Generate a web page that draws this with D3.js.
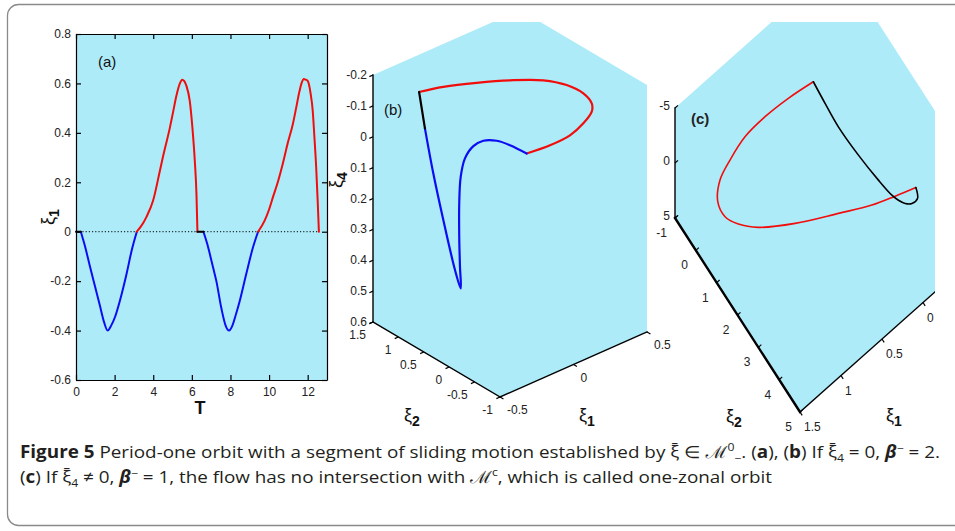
<!DOCTYPE html>
<html><head><meta charset="utf-8">
<script src="https://cdn.jsdelivr.net/npm/d3@7"></script>
<style>
html,body{margin:0;padding:0;background:#fff;}
svg{display:block;}
</style></head><body>
<svg id="chart" width="955" height="531"></svg>
<script>
// ================= DATA =================
// Panel (a): [T, xi1] segments
const aBlack1 = [[0,0],[0.25,0]];
const aBlue1 = [[0.25,0],[0.47,-0.06],[0.72,-0.14],[0.98,-0.22],[1.24,-0.3],[1.45,-0.365],[1.64,-0.4],[1.82,-0.38],[2.02,-0.345],[2.27,-0.28],[2.62,-0.17],[2.88,-0.077],[3.15,0]];
const aRed1 = [[3.15,0],[3.48,0.035],[3.65,0.06],[3.99,0.125],[4.34,0.245],[4.51,0.305],[4.86,0.42],[5.03,0.485],[5.2,0.55],[5.37,0.598],[5.5,0.615],[5.6,0.61],[5.72,0.59],[5.89,0.53],[6.03,0.42],[6.15,0.29],[6.24,0.15],[6.29,0]];
const aBlack2 = [[6.29,0],[6.6,0]];
const aBlue2 = [[6.6,0],[6.8,-0.05],[6.93,-0.09],[7.1,-0.145],[7.27,-0.2],[7.53,-0.31],[7.75,-0.38],[7.93,-0.4],[8.1,-0.38],[8.3,-0.33],[8.48,-0.28],[8.82,-0.17],[9.16,-0.065],[9.43,0]];
const aRed2 = [[9.43,0],[9.77,0.045],[10.0,0.09],[10.2,0.14],[10.45,0.2],[10.71,0.275],[10.97,0.36],[11.23,0.435],[11.4,0.5],[11.58,0.57],[11.7,0.605],[11.8,0.618],[11.9,0.615],[12.0,0.61],[12.15,0.56],[12.26,0.49],[12.35,0.38],[12.44,0.26],[12.52,0.12],[12.58,0]];
const aZeroLine = [[0,0],[12.6,0]];
const aXTicks = [0,2,4,6,8,10,12];
const aYTicks = [-0.6,-0.4,-0.2,0,0.2,0.4,0.6,0.8];

// Panel (b): [xi1, xi2, xi4]
const bRed = [[-0.29,1.2,-0.13],[-0.193,1.004,-0.145],[-0.059,0.736,-0.156],[0.075,0.467,-0.162],[0.209,0.199,-0.16],[0.303,0.011,-0.143],[0.37,-0.123,-0.115],[0.404,-0.19,-0.082],[0.404,-0.19,-0.055],[0.37,-0.123,-0.018],[0.316,-0.016,0.02],[0.236,0.145,0.051],[0.142,0.333,0.076]];
const bBlue = [[0.142,0.333,0.076],[0.075,0.467,0.048],[0.022,0.575,0.033],[-0.032,0.682,0.032],[-0.072,0.763,0.049],[-0.106,0.83,0.088],[-0.123,0.864,0.147],[-0.129,0.876,0.233],[-0.129,0.876,0.341],[-0.126,0.87,0.439],[-0.123,0.864,0.509],[-0.146,0.91,0.449],[-0.193,1.004,0.286],[-0.233,1.085,0.135],[-0.267,1.152,-0.012]];
const bBlack = [[-0.267,1.152,-0.012],[-0.29,1.2,-0.13]];
const bXi1Ticks = [-0.5,0,0.5];
const bXi2Ticks = [-1,-0.5,0,0.5,1,1.5];
const bXi4Ticks = [-0.2,-0.1,0,0.1,0.2,0.3,0.4,0.5,0.6];

// Panel (c): [xi1, xi2, xi4]
const cRed = [[0.132,0.256,-2],[0.381,0.036,-1.5],[0.626,-0.118,-1],[0.854,-0.183,-0.5],[1.059,-0.096,0],[1.209,0.015,0.5],[1.307,0.293,1],[1.298,0.608,1.5],[1.204,0.876,2],[1.065,1.292,2],[0.788,1.964,1.5],[0.43,2.634,1],[0.157,3.164,0.5],[-0.041,3.504,0],[-0.217,3.803,-0.5]];
const cBlack = [[-0.217,3.803,-0.5],[-0.175,4.048,-0.5],[-0.101,4.07,-0.6],[-0.038,3.995,-0.8],[0.009,3.857,-1],[0.046,3.686,-1.2],[0.097,3.242,-1.6],[0.149,2.487,-2],[0.185,1.666,-2.4],[0.16,0.929,-2.2],[0.132,0.256,-2]];
const cXi1Ticks = [0,0.5,1,1.5];
const cXi2Ticks = [-1,0,1,2,3,4,5];
const cXi4Ticks = [-5,0,5];

// ================= DRAW =================
const svg = d3.select('#chart');
const FONT = "'Liberation Sans', Arial, sans-serif";
const CYAN = '#aeebf9';
const RED = '#f20d0d', BLUE = '#0d0df2', BLACK = '#000';

svg.append('rect').attr('x',7.5).attr('y',4.5).attr('width',980).attr('height',521)
  .attr('rx',11).attr('fill','none').attr('stroke','#8a8a8a').attr('stroke-width',1.3);

// ---------- Panel (a) ----------
const ax = d3.scaleLinear([0,13],[76,327]);
const ay = d3.scaleLinear([-0.6,0.8],[380,34]);
const ga = svg.append('g').attr('font-family',FONT);
ga.append('rect').attr('x',ax(0)).attr('y',ay(0.8))
  .attr('width',ax(13)-ax(0)).attr('height',ay(-0.6)-ay(0.8)).attr('fill',CYAN);
const fmt = d => String(d);
function styleAxis(g){
  g.select('.domain').attr('stroke','#000').attr('stroke-width',1.2);
  g.selectAll('.tick line').attr('stroke','#000').attr('stroke-width',1.2);
  g.selectAll('.tick text').attr('font-size',12).attr('fill','#222').attr('font-family',FONT);
}
ga.append('g').attr('transform',`translate(0,${ay(-0.6)})`)
  .call(d3.axisBottom(ax).tickValues(aXTicks).tickSize(-5).tickSizeOuter(0).tickPadding(7).tickFormat(fmt)).call(styleAxis);
ga.append('g').attr('transform',`translate(0,${ay(0.8)})`)
  .call(d3.axisTop(ax).tickValues(aXTicks).tickSize(-5).tickSizeOuter(0).tickFormat('')).call(styleAxis);
ga.append('g').attr('transform',`translate(${ax(0)},0)`)
  .call(d3.axisLeft(ay).tickValues(aYTicks).tickSize(-5).tickSizeOuter(0).tickPadding(5).tickFormat(fmt)).call(styleAxis);
ga.append('g').attr('transform',`translate(${ax(13)},0)`)
  .call(d3.axisRight(ay).tickValues(aYTicks).tickSize(-5).tickSizeOuter(0).tickFormat('')).call(styleAxis);
ga.selectAll('.domain').attr('fill','none');

const aLine = d3.line().x(d=>ax(d[0])).y(d=>ay(d[1])).curve(d3.curveMonotoneX);
ga.append('path').datum(aZeroLine).attr('d',d3.line().x(d=>ax(d[0])).y(d=>ay(d[1])))
  .attr('stroke','#000').attr('stroke-width',1).attr('stroke-dasharray','1.2,2').attr('fill','none');
[[aBlue1,BLUE],[aRed1,RED],[aBlue2,BLUE],[aRed2,RED],[aBlack1,BLACK],[aBlack2,BLACK]].forEach(([d,c])=>{
  ga.append('path').datum(d).attr('d',aLine).attr('fill','none').attr('stroke',c)
    .attr('stroke-width',2).attr('stroke-linejoin','round').attr('stroke-linecap','round');
});
ga.append('text').attr('x',98).attr('y',67).attr('font-size',15).attr('fill','#111').text('(a)');
ga.append('text').attr('x',200).attr('y',414).attr('text-anchor','middle').attr('font-size',18)
  .attr('font-weight','bold').attr('fill','#111').text('T');
function xiLabel(g, x, y, sub, rotate){
  const t = g.append('text').attr('font-family',FONT).attr('fill','#111').attr('font-size',18)
    .attr('text-anchor', rotate ? 'middle' : 'start')
    .attr('transform', rotate ? `translate(${x},${y}) rotate(-90)` : `translate(${x},${y})`);
  t.append('tspan').text('ξ');
  t.append('tspan').attr('font-size',14).attr('font-weight','bold').attr('dy',5).text(sub);
  return t;
}
xiLabel(ga, 54, 217, '1', true);

// ---------- 3D helper ----------
function make3D(cfg){
  const {s1,s2,s4,O,V1,V2,V4} = cfg;
  return p => {
    const a=s1(p[0]), b=s2(p[1]), c=s4(p[2]);
    return [O[0]+a*V1[0]+b*V2[0]+c*V4[0], O[1]+a*V1[1]+b*V2[1]+c*V4[1]];
  };
}
function boxHull(proj, s1, s2, s4){
  const pts=[];
  s1.domain().forEach(a=>s2.domain().forEach(b=>s4.domain().forEach(c=>pts.push(proj([a,b,c])))));
  return d3.polygonHull(pts);
}
function unit(v, len){ const n=Math.hypot(v[0],v[1]); return [v[0]/n*len, v[1]/n*len]; }
function drawAxis3D(g, proj, from, to, width){
  const p0=proj(from), p1=proj(to);
  g.append('line').attr('x1',p0[0]).attr('y1',p0[1]).attr('x2',p1[0]).attr('y2',p1[1])
    .attr('stroke','#000').attr('stroke-width',width).attr('stroke-linecap','square');
}
function drawTicks3D(g, proj, ticks, pos, dir, lab){
  ticks.forEach(t=>{
    const p = proj(pos(t));
    g.append('line').attr('x1',p[0]).attr('y1',p[1]).attr('x2',p[0]+dir[0]).attr('y2',p[1]+dir[1])
      .attr('stroke','#000').attr('stroke-width',1.2);
    g.append('text').attr('x',p[0]+lab.dx).attr('y',p[1]+lab.dy).attr('text-anchor',lab.anchor)
      .attr('font-family',FONT).attr('font-size',12).attr('fill','#222').text(String(t));
  });
}
const line3D = (proj) => d3.line().x(d=>proj(d)[0]).y(d=>proj(d)[1]).curve(d3.curveCatmullRom.alpha(0.5));

// ---------- Panel (b) ----------
const bS1 = d3.scaleLinear([-0.5,0.5],[0,1]);
const bS2 = d3.scaleLinear([-1,1.5],[0,1]);
const bS4 = d3.scaleLinear([0.6,-0.2],[0,1]);
const bV1=[147,-65], bV2=[-127,-75], bV4=[0,-247];
const bProj = make3D({s1:bS1,s2:bS2,s4:bS4,O:[500,397],V1:bV1,V2:bV2,V4:bV4});
const gb = svg.append('g');
svg.append('clipPath').attr('id','clipB').append('rect').attr('x',330).attr('y',22).attr('width',330).attr('height',500);
const gbc = gb.append('g').attr('clip-path','url(#clipB)');
gbc.append('path').attr('d','M'+boxHull(bProj,bS1,bS2,bS4).join('L')+'Z').attr('fill',CYAN);
const bL = line3D(bProj);
[[bRed,RED],[bBlue,BLUE],[bBlack,BLACK]].forEach(([d,c])=>{
  gbc.append('path').datum(d).attr('d',bL).attr('fill','none').attr('stroke',c)
    .attr('stroke-width',2.2).attr('stroke-linejoin','round').attr('stroke-linecap','round');
});
drawAxis3D(gb,bProj,[-0.5,1.5,0.6],[-0.5,1.5,-0.2],1.4);
drawAxis3D(gb,bProj,[-0.5,-1,0.6],[-0.5,1.5,0.6],1.4);
drawAxis3D(gb,bProj,[-0.5,-1,0.6],[0.5,-1,0.6],1.4);
const bOut1 = unit([-bV1[0],-bV1[1]],4), bOut2 = unit([-bV2[0],-bV2[1]],4);
drawTicks3D(gb,bProj,bXi4Ticks,t=>[-0.5,1.5,t],bOut1,{dx:-6,dy:4,anchor:'end'});
drawTicks3D(gb,bProj,bXi2Ticks,t=>[-0.5,t,0.6],bOut1,{dx:-7,dy:17,anchor:'end'});
drawTicks3D(gb,bProj,bXi1Ticks,t=>[t,-1,0.6],bOut2,{dx:7,dy:17,anchor:'start'});
gb.append('text').attr('x',384).attr('y',115).attr('font-family',FONT).attr('font-size',15).attr('fill','#111').text('(b)');
xiLabel(gb, 404, 421, '2', false);
xiLabel(gb, 579, 421, '1', false);
xiLabel(gb, 342, 180, '4', true);

// ---------- Panel (c) ----------
const cS1 = d3.scaleLinear([1.5,-0.5],[0,1]);
const cS2 = d3.scaleLinear([-1,5],[0,1]);
const cS4 = d3.scaleLinear([5,-5],[0,1]);
const cV1=[164,-146], cV2=[125,194], cV4=[0,-110];
const cProj = make3D({s1:cS1,s2:cS2,s4:cS4,O:[675,218],V1:cV1,V2:cV2,V4:cV4});
const gc = svg.append('g');
svg.append('clipPath').attr('id','clipC').append('rect').attr('x',655).attr('y',22).attr('width',280).attr('height',500);
const gcc = gc.append('g').attr('clip-path','url(#clipC)');
gcc.append('path').attr('d','M'+boxHull(cProj,cS1,cS2,cS4).join('L')+'Z').attr('fill',CYAN);
const cL = line3D(cProj);
[[cRed,RED],[cBlack,BLACK]].forEach(([d,c])=>{
  gcc.append('path').datum(d).attr('d',cL).attr('fill','none').attr('stroke',c)
    .attr('stroke-width',1.6).attr('stroke-linejoin','round').attr('stroke-linecap','round');
});
drawAxis3D(gc,cProj,[1.5,-1,5],[1.5,-1,-5],1.4);
drawAxis3D(gc,cProj,[1.5,-1,5],[1.5,5,5],2.4);
drawAxis3D(gcc,cProj,[1.5,5,5],[-0.5,5,5],1.4);
const cOut1 = unit(cV1,4), cOut2 = unit(cV2,4);
drawTicks3D(gc,cProj,cXi4Ticks,t=>[1.5,-1,t],cOut1,{dx:-5,dy:2,anchor:'end'});
drawTicks3D(gc,cProj,cXi2Ticks,t=>[1.5,t,5],cOut1,{dx:-8,dy:19,anchor:'end'});
drawTicks3D(gc,cProj,cXi1Ticks,t=>[t,5,5],cOut2,{dx:4,dy:19,anchor:'start'});
gc.append('text').attr('x',691).attr('y',124).attr('font-family',FONT).attr('font-size',15)
  .attr('font-weight','bold').attr('fill','#222').text('(c)');
xiLabel(gc, 726, 422, '2', false);
xiLabel(gc, 886, 421, '1', false);

// ---------- Caption ----------
const CAPFONT = "'Open Sans','Noto Sans',sans-serif";
function caption(x, y, len, parts){
  const t = svg.append('text').attr('x',x).attr('y',y).attr('font-family',CAPFONT)
    .attr('font-size',17).attr('fill','#231f20').attr('textLength',len).attr('lengthAdjust','spacingAndGlyphs');
  parts.forEach(p=>{
    const s = t.append('tspan').text(p.t);
    if(p.b) s.attr('font-weight','bold');
    if(p.i) s.attr('font-style','italic');
    if(p.fs) s.attr('font-size',p.fs);
    if(p.dy) s.attr('dy',p.dy);
    if(p.dx) s.attr('dx',p.dx);
  });
}
const XIBAR = 'ξ\u0304';
caption(20, 458, 920, [
  {t:'Figure 5', b:true},
  {t:'  Period-one orbit with a segment of sliding motion established by '},
  {t:XIBAR+' ∈ '}, {t:'ℳ', i:true},
  {t:'0', fs:11, dy:-7}, {t:'−', fs:11, dy:11},
  {t:'. (', dy:-4}, {t:'a', b:true}, {t:'), ('}, {t:'b', b:true}, {t:') If '},
  {t:XIBAR}, {t:'4', fs:11, dy:4}, {t:' = 0, ', dy:-4}, {t:'β', i:true, b:true},
  {t:'−', fs:11, dy:-6}, {t:' = 2.', dy:6}
]);
caption(20, 483, 752, [
  {t:'('}, {t:'c', b:true}, {t:') If '}, {t:XIBAR}, {t:'4', fs:11, dy:4},
  {t:' ≠ 0, ', dy:-4}, {t:'β', i:true, b:true}, {t:'−', fs:11, dy:-6}, {t:' = 1, the flow has no intersection with ', dy:6},
  {t:'ℳ', i:true}, {t:'c', fs:11, dy:-7}, {t:', which is called one-zonal orbit', dy:7}
]);
</script>
</body></html>
